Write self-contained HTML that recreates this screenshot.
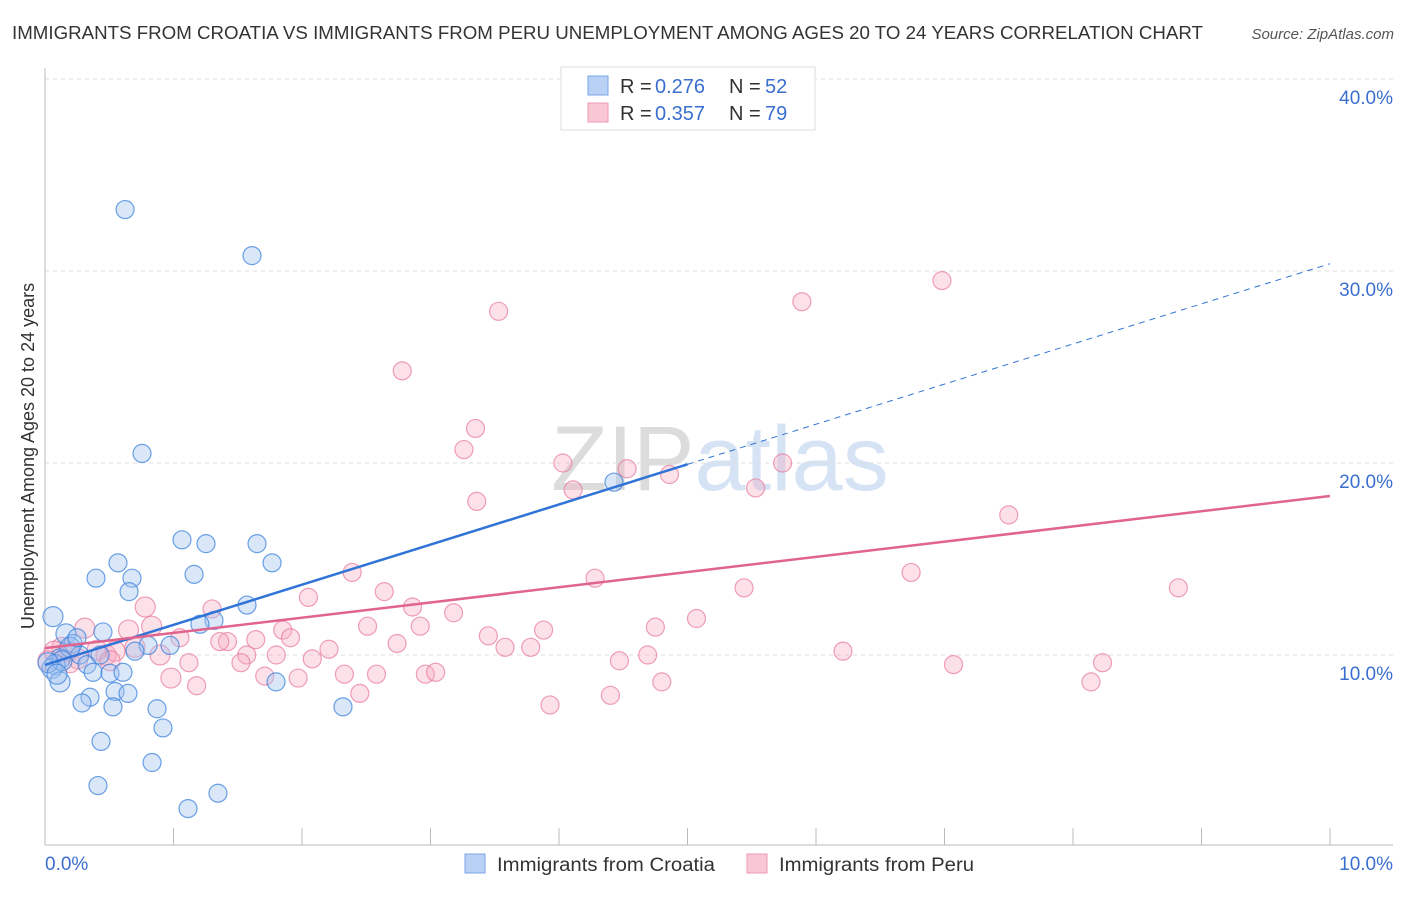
<!DOCTYPE html>
<html><head><meta charset="utf-8"><style>
body{margin:0;background:#fff;font-family:"Liberation Sans",sans-serif}
svg text{font-family:"Liberation Sans",sans-serif}
</style></head><body>
<svg id="chart" width="1406" height="892" viewBox="0 0 1406 892">
<text x="12" y="39" font-size="18" fill="#333" textLength="1191" lengthAdjust="spacingAndGlyphs">IMMIGRANTS FROM CROATIA VS IMMIGRANTS FROM PERU UNEMPLOYMENT AMONG AGES 20 TO 24 YEARS CORRELATION CHART</text>
<text x="1394" y="39" font-size="15" fill="#555" font-style="italic" text-anchor="end">Source: ZipAtlas.com</text>
<text x="720" y="490" font-size="92" fill="#e4e4e4" text-anchor="middle" font-family="Liberation Serif"><tspan fill="#dcdcdc">ZIP</tspan><tspan fill="#d5e3f5" font-family="Liberation Sans">atlas</tspan></text>
<g id="grid"></g>
<g id="axes"></g>
<g id="marks"></g>
<text transform="translate(34,456) rotate(-90)" font-size="18" fill="#333" text-anchor="middle">Unemployment Among Ages 20 to 24 years</text>
<g>
<rect x="561" y="67" width="254" height="63" fill="#fff" stroke="#ddd"/>
<rect x="588" y="76" width="20" height="19" fill="#b8d1f5" stroke="#7aa5e6"/>
<rect x="588" y="103" width="20" height="19" fill="#f9c6d4" stroke="#ee9ab3"/>
<text x="620" y="93" font-size="20" fill="#333">R = </text><text x="655" y="93" font-size="20" fill="#3a6fd0">0.276</text>
<text x="729" y="93" font-size="20" fill="#333">N = </text><text x="765" y="93" font-size="20" fill="#3a6fd0">52</text>
<text x="620" y="120" font-size="20" fill="#333">R = </text><text x="655" y="120" font-size="20" fill="#3a6fd0">0.357</text>
<text x="729" y="120" font-size="20" fill="#333">N = </text><text x="765" y="120" font-size="20" fill="#3a6fd0">79</text>
</g>
<g>
<rect x="465" y="854" width="20" height="19" fill="#b8d1f5" stroke="#7aa5e6"/>
<text x="497" y="871" font-size="19" fill="#333" textLength="218" lengthAdjust="spacingAndGlyphs">Immigrants from Croatia</text>
<rect x="747" y="854" width="20" height="19" fill="#f9c6d4" stroke="#ee9ab3"/>
<text x="779" y="871" font-size="19" fill="#333" textLength="195" lengthAdjust="spacingAndGlyphs">Immigrants from Peru</text>
</g>
</svg>
<script>
const yTicks=[10,20,30,40];
const yTickLabels=["10.0%","20.0%","30.0%","40.0%"];
const xTicks=[0,1,2,3,4,5,6,7,8,9,10];
const xTickLabels=["0.0%","10.0%"];
const croatiaX=[0.623,1.611,0.755,4.428,1.066,1.253,1.65,0.568,1.767,0.397,0.677,1.16,0.654,1.572,0.062,1.315,1.206,0.163,0.451,0.218,0.973,0.802,0.700,0.272,0.117,0.078,0.327,0.374,0.506,0.607,0.054,0.117,0.545,0.646,0.350,0.288,0.529,1.798,0.872,2.319,0.918,0.436,0.833,0.412,1.346,1.113,0.195,0.132,0.023,0.428,0.093,0.249];
const croatiaY=[33.2,30.8,20.5,19.0,16.0,15.8,15.8,14.8,14.8,14.0,14.0,14.2,13.3,12.6,12.0,11.8,11.6,11.1,11.2,10.6,10.5,10.5,10.2,10.0,9.8,9.5,9.5,9.1,9.05,9.1,9.3,8.6,8.1,8.0,7.8,7.5,7.3,8.6,7.2,7.3,6.2,5.5,4.4,3.2,2.8,2.0,10.4,9.7,9.6,10.0,9.0,10.9];
const peruX=[6.98,5.89,3.53,2.78,3.35,3.26,4.03,4.53,4.86,5.74,4.11,5.53,3.36,7.5,2.39,4.28,6.74,8.82,5.44,0.78,2.05,2.64,1.3,2.86,3.18,5.07,2.51,2.92,3.88,1.85,4.75,0.31,0.65,0.83,1.05,1.91,1.42,3.45,1.64,2.74,1.36,3.58,3.78,6.21,4.69,0.475,2.21,2.08,1.57,1.80,0.895,0.545,0.405,0.132,0.070,0.257,1.12,1.525,4.47,7.07,8.23,2.33,2.58,1.71,1.97,2.96,3.04,0.98,1.18,4.80,8.14,2.45,4.40,3.93,0.023,0.195,0.179,0.506,0.700];
const peruY=[29.5,28.4,27.9,24.8,21.8,20.7,20.0,19.7,19.4,20.0,18.6,18.7,18.0,17.3,14.3,14.0,14.3,13.5,13.5,12.5,13.0,13.3,12.4,12.5,12.2,11.9,11.5,11.5,11.3,11.3,11.45,11.4,11.3,11.5,10.9,10.9,10.7,11.0,10.8,10.6,10.7,10.4,10.4,10.2,10.0,10.0,10.3,9.8,10.0,10.0,10.0,10.2,10.25,10.4,10.2,9.8,9.6,9.6,9.7,9.5,9.6,9.0,9.0,8.9,8.8,9.0,9.1,8.8,8.4,8.6,8.6,8.0,7.9,7.4,9.7,9.6,10.2,9.7,10.4];
const croatiaFit=[9.48,2.09];
const croatiaFitEnd=[5.0];
const peruFit=[10.36,0.792];
const NS="http://www.w3.org/2000/svg";
const X0=45,X1=1330,YB=847,PXY=19.2;
function sx(v){return X0+(X1-X0)*v/10;}
function sy(v){return YB-v*PXY;}
function mk(tag,attrs,parent){const e=document.createElementNS(NS,tag);for(const k in attrs)e.setAttribute(k,attrs[k]);parent.appendChild(e);return e;}
const grid=document.getElementById('grid'),axes=document.getElementById('axes'),marks=document.getElementById('marks');
yTicks.forEach((t,i)=>{
 const l=mk('line',{x1:45,x2:1393,y1:sy(t),y2:sy(t),stroke:'#ddd','stroke-dasharray':'4 4'},grid);
 
 
 const tx=mk('text',{x:1393,y:sy(t)+25,'font-size':19,fill:'#3a6fd0','text-anchor':'end'},axes);
 tx.textContent=yTickLabels[i];
 
 
});
const ax=mk('line',{x1:45,x2:45,y1:68,y2:845,stroke:'#bbb'},axes);


const bx=mk('line',{x1:45,x2:1393,y1:845,y2:845,stroke:'#bbb'},axes);


xTicks.forEach(t=>{
 const l=mk('line',{x1:sx(t),x2:sx(t),y1:828,y2:845,stroke:'#bbb'},axes);
 
 
});
const xl0=mk('text',{x:45,y:870,'font-size':19,fill:'#3a6fd0'},axes);xl0.textContent=xTickLabels[0];


const xl1=mk('text',{x:1393,y:870,'font-size':19,fill:'#3a6fd0','text-anchor':'end'},axes);xl1.textContent=xTickLabels[1];


peruX.forEach((x,i)=>{
 const c=mk('circle',{cx:sx(x),cy:sy(peruY[i]),r:x<1?10:9,fill:'rgba(246,170,192,0.35)',stroke:'rgba(232,120,155,0.7)','stroke-width':1.2},marks);
 
 
});
croatiaX.forEach((x,i)=>{
 const c=mk('circle',{cx:sx(x),cy:sy(croatiaY[i]),r:x<0.2?10:9,fill:'rgba(160,195,240,0.4)',stroke:'rgba(60,130,220,0.75)','stroke-width':1.2},marks);
 
 
});
const xe=croatiaFitEnd[0];
const b1=mk('line',{x1:sx(0),y1:sy(croatiaFit[0]),x2:sx(xe),y2:sy(croatiaFit[0]+croatiaFit[1]*xe),stroke:'#2f74d6','stroke-width':2.5},marks);


const b2=mk('line',{x1:sx(xe),y1:sy(croatiaFit[0]+croatiaFit[1]*xe),x2:sx(10),y2:sy(croatiaFit[0]+croatiaFit[1]*10),stroke:'#2f74d6','stroke-width':1,'stroke-dasharray':'6 5'},marks);


const p1=mk('line',{x1:sx(0),y1:sy(peruFit[0]),x2:sx(10),y2:sy(peruFit[0]+peruFit[1]*10),stroke:'#e0648e','stroke-width':2.5},marks);


</script>
</body></html>
